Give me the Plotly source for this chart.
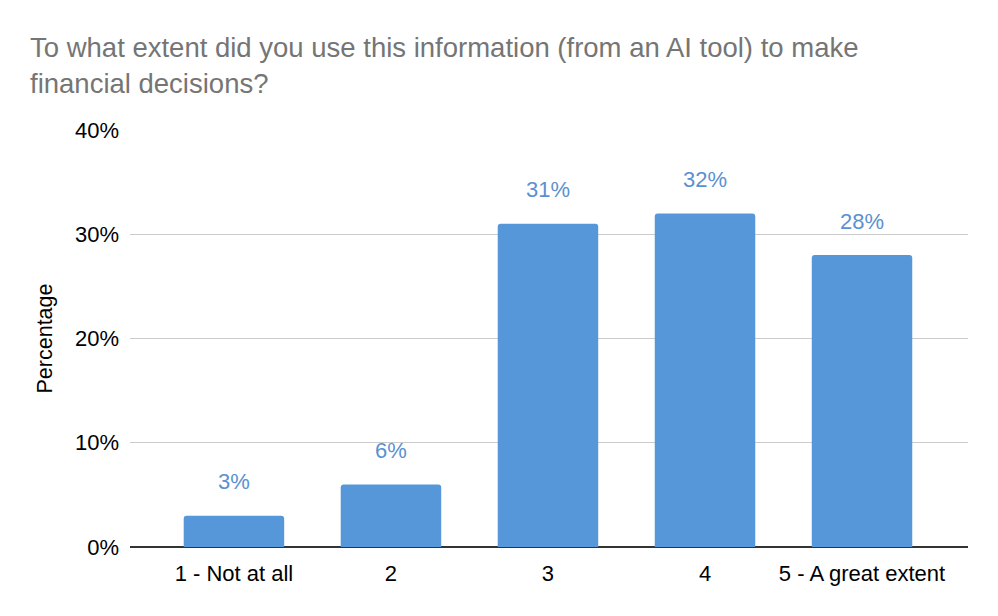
import plotly.graph_objects as go

categories = ["1 - Not at all", "2", "3", "4", "5 - A great extent"]
percentages = [3, 6, 31, 32, 28]
y_ticks = [0, 10, 20, 30, 40]
y_tick_labels = ["0%", "10%", "20%", "30%", "40%"]

BAR_COLOR = "#5697d9"
LABEL_COLOR = "#5a91d0"
FONT = "Liberation Sans, Arial, sans-serif"

fig = go.Figure()
fig.add_trace(go.Bar(
    x=list(range(len(categories))),
    y=percentages,
    width=0.64,
    marker=dict(color=BAR_COLOR, cornerradius=3, line=dict(width=0)),
    hoverinfo="skip",
))

# value labels sit well above each bar
for i, v in enumerate(percentages):
    fig.add_annotation(
        x=i, y=v, text=f"{v}%", showarrow=False,
        yanchor="middle", yshift=34,
        font=dict(family=FONT, size=22, color=LABEL_COLOR),
    )

fig.update_layout(
    width=998, height=616,
    margin=dict(l=122, r=38, t=122, b=77),
    plot_bgcolor="white", paper_bgcolor="white",
    showlegend=False,
    font=dict(family=FONT, color="#000000"),
    title=dict(
        text="To what extent did you use this information (from an AI tool) to make<br>financial decisions?",
        x=22 / 998, xref="container", xanchor="left",
        y=1 - 49 / 616, yref="container", yanchor="top",
        font=dict(family=FONT, size=27.5, color="#757575"),
    ),
    xaxis=dict(
        tickvals=list(range(len(categories))),
        ticktext=categories,
        range=[-0.662, 4.675],
        showgrid=False, zeroline=False,
        showline=False, ticks="",
        ticklabelstandoff=11,
        tickfont=dict(size=22, color="#000000"),
    ),
    yaxis=dict(
        range=[0, 40],
        tickvals=y_ticks,
        ticktext=y_tick_labels,
        showgrid=True, gridcolor="#cccccc", gridwidth=1,
        zeroline=True, zerolinecolor="#333333", zerolinewidth=1.5,
        showline=False, ticks="",
        ticklabelstandoff=10,
        tickfont=dict(size=22, color="#000000"),
        title=dict(text="Percentage", standoff=16, font=dict(size=21.5, color="#000000")),
    ),
)

fig.write_html("out.html")
